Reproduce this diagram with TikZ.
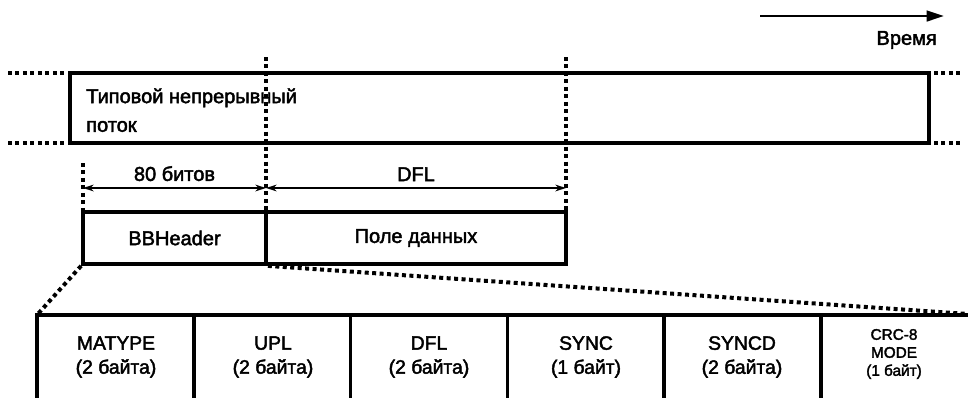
\documentclass[tikz,border=0pt]{standalone}
\usepackage{fontspec}
\setmainfont{Liberation Sans}[FakeBold=2.2]
\usetikzlibrary{arrows.meta}

\begin{document}
\begin{tikzpicture}[x=0.75pt, y=-0.75pt, >={Stealth[length=8pt,width=5pt]},
    linie/.style={line width=2.8pt},
    punkte/.style={line width=3pt, dash pattern=on 3pt off 2.6pt},
    masz/.style={<->, line width=1.4pt},
    schrift/.style={font=\fontsize{15}{18}\selectfont, inner sep=0pt},
    feld/.style={align=center, font=\fontsize{14.5}{18}\selectfont, inner sep=0pt}]
    \useasboundingbox (0,0) rectangle (968,397);

    % Zeitachse
    \coordinate (zeitA) at (760,16);
    \coordinate (zeitB) at (944,16);
    \draw[-{Triangle[length=13pt,width=8pt]}, line width=1.8pt] (zeitA) -- (zeitB);
    \node[schrift, anchor=east] (zeit) at (937,40) {Время};

    % Strom
    \draw[linie] (70,73) rectangle (929,143);
    \draw[punkte] (8,73) -- (66,73) (8,143) -- (66,143);
    \draw[punkte] (934,73) -- (962,73) (934,143) -- (962,143);
    \node[schrift, anchor=north west, align=left, font=\fontsize{15}{21.5}\selectfont] (strom) at (86,88) {Типовой непрерывный\\поток};

    % Grenzen
    \draw[punkte] (266,57) -- (266,212);
    \draw[punkte] (566,57) -- (566,212);
    \draw[punkte] (83,163) -- (83,212);

    % Bemassung
    \coordinate (m0) at (83,188);
    \coordinate (m1) at (266,188);
    \coordinate (m2) at (566,188);
    \draw[masz] (m0) -- (m1) node[midway, above=4.5pt, schrift] (bits) {80 битов};
    \draw[masz] (m1) -- (m2) node[midway, above=4.5pt, schrift] (dfl) {DFL};

    % Rahmen
    \node[linie, draw, schrift, minimum width=137.25pt, minimum height=39pt] (bbh) at (174.5,238) {BBHeader};
    \node[linie, draw, schrift, minimum width=225pt, minimum height=39pt] (daten) at (416,238) {Поле данных};

    % Felder
    \foreach \nr/\xa/\xm/\txt in {0/37/116/{MATYPE\\(2 байта)}, 1/193.8/273/{UPL\\(2 байта)},
        2/350.6/429/{DFL\\(2 байта)}, 3/507.4/586/{SYNC\\(1 байт)}, 4/664.2/742/{SYNCD\\(2 байта)}} {
        \draw[linie] (\xa,315) rectangle ++(156.8,100);
        \node[feld] (f\nr) at (\xm,357) {\txt};
    }
    \draw[linie] (821,315) rectangle ++(156.8,100);
    \node[feld, font=\fontsize{11.5}{13.5}\selectfont] (f5) at (894,354) {CRC-8\\MODE\\(1 байт)};

    % Lupe
    \coordinate (zellA) at (37,315);
    \coordinate (zellE) at (968,314);
    \draw[punkte] (bbh.south west) -- (zellA);
    \draw[punkte] (bbh.south east) -- (zellE);
\end{tikzpicture}
\end{document}
